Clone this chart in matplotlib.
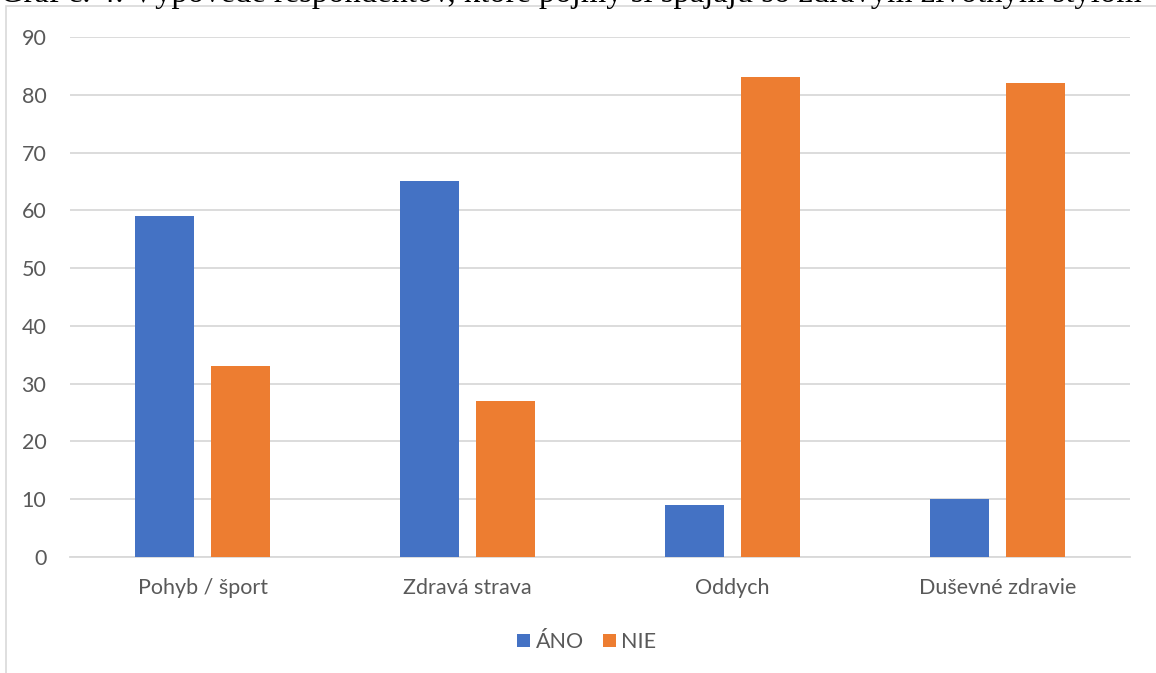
import matplotlib.pyplot as plt
from matplotlib.patches import Rectangle
import numpy as np

categories = ["Pohyb / šport", "Zdravá strava", "Oddych", "Duševné zdravie"]
ano = [59, 65, 9, 10]
nie = [33, 27, 83, 82]
series_names = ["ÁNO", "NIE"]
title = "Graf č. 4: Výpovede respondentov, ktoré pojmy si spájajú so zdravým životným štýlom"

W, H = 1156, 673
fig = plt.figure(figsize=(W / 100, H / 100), dpi=100)
plt.rcParams['font.family'] = ['Lato', 'DejaVu Sans']

# chart frame
fig.patches.append(Rectangle((6 / W, -0.01), 1.1, (H - 6) / H + 0.01,
                             transform=fig.transFigure, fill=False,
                             edgecolor="#d9d9d9", linewidth=1.2))

# caption above the frame
fig.text(0, 1 - 2 / H, title, fontsize=23.5, family=['Liberation Serif'],
         ha='left', va='baseline', color='black')

ax = fig.add_axes([70 / W, 1 - 557 / H, (1130 - 70) / W, (557 - 37) / H])
x = np.arange(len(categories))
bw = 59 / 264.5
off = (59 + 16) / 2 / 264.5
ax.bar(x - off, ano, bw, color="#4472C4", label=series_names[0], zorder=3)
ax.bar(x + off, nie, bw, color="#ED7D31", label=series_names[1], zorder=3)

ax.set_xlim(-0.5, len(categories) - 0.5)
ax.set_ylim(0, 90)
ax.set_yticks(range(0, 91, 10))
ax.set_xticks(x)
ax.set_xticklabels(categories)
ax.grid(axis='y', color="#d9d9d9", linewidth=1.3, zorder=0)
for s in ['top', 'right', 'left']:
    ax.spines[s].set_visible(False)
ax.spines['bottom'].set_color("#d9d9d9")
ax.spines['bottom'].set_linewidth(1.3)
ax.tick_params(axis='both', length=0, labelsize=15.5, colors="#595959")
ax.tick_params(axis='x', pad=15)
ax.tick_params(axis='y', pad=17)

leg = ax.legend(loc='center', bbox_to_anchor=(587 / W, 1 - 642 / H),
                bbox_transform=fig.transFigure, ncol=2, frameon=False,
                fontsize=15.5, handlelength=0.6, handleheight=0.6,
                handletextpad=0.25, columnspacing=0.9)
for t in leg.get_texts():
    t.set_color("#595959")

fig.savefig("out.png", dpi=100)
